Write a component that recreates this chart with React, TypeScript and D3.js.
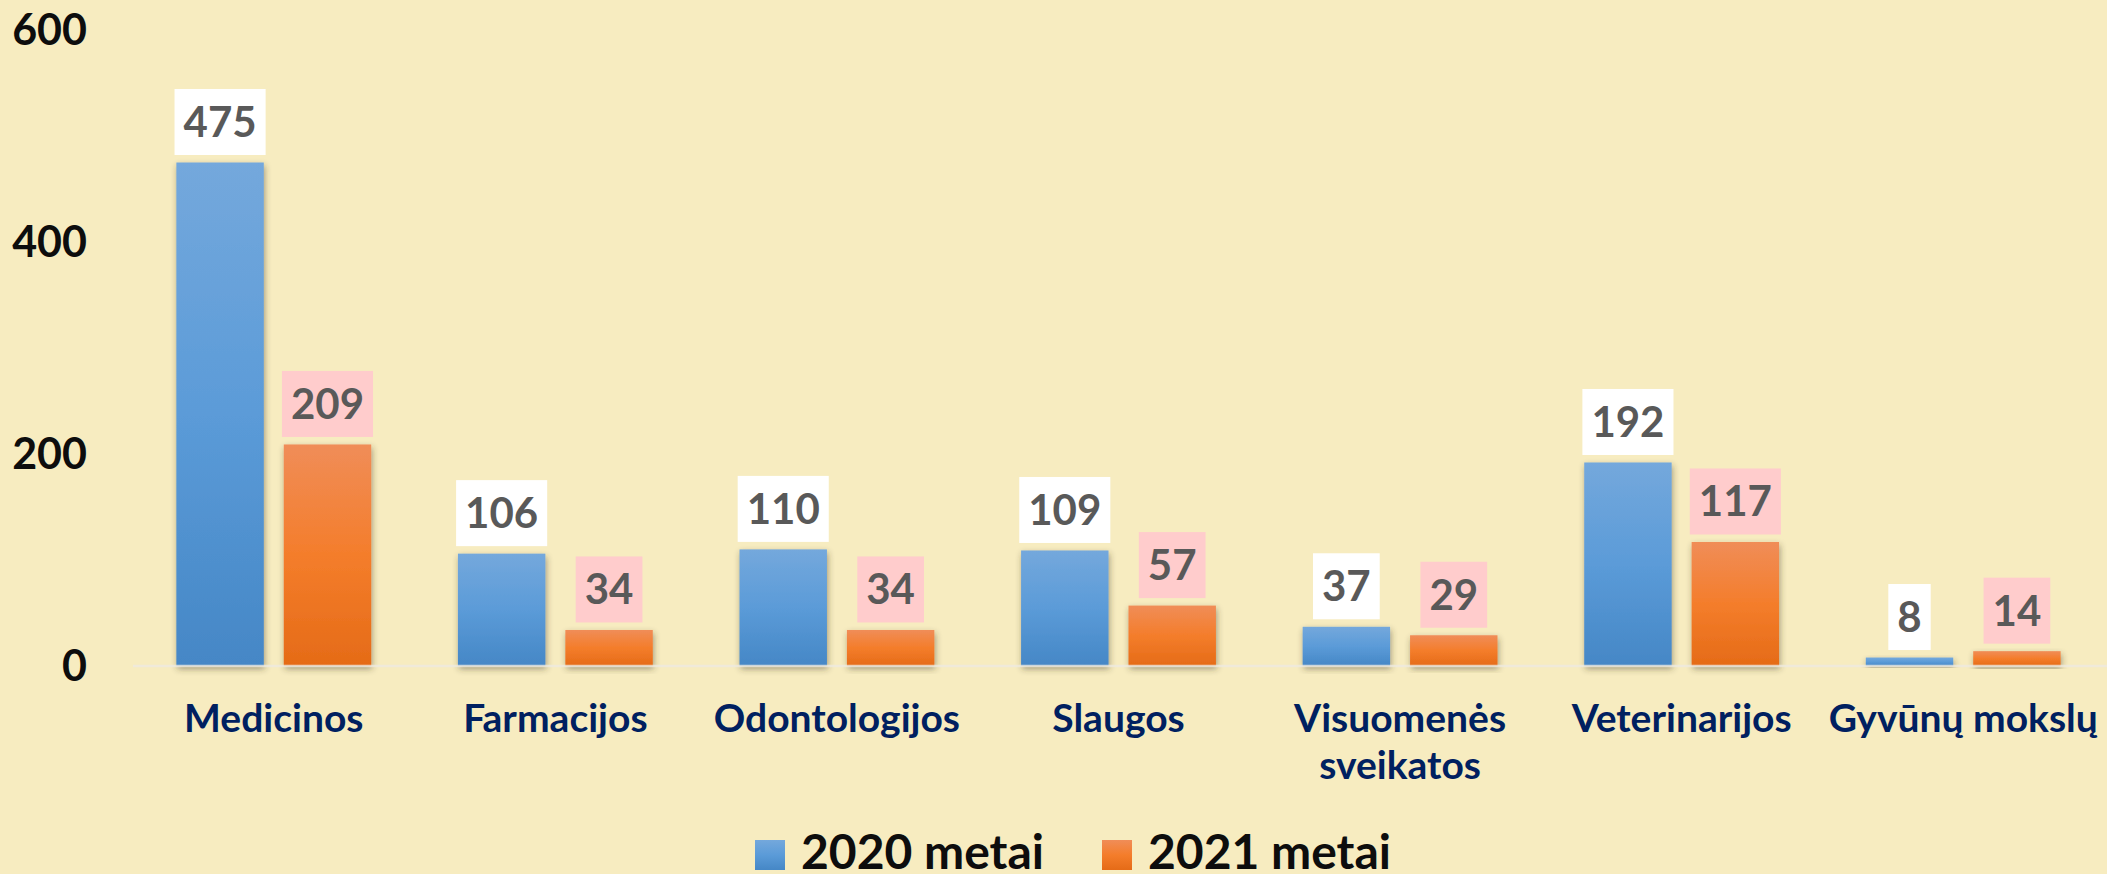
import { useEffect } from 'react'
import * as d3 from 'd3'

const categories = ['Medicinos', 'Farmacijos', 'Odontologijos', 'Slaugos', 'Visuomenės\nsveikatos', 'Veterinarijos', 'Gyvūnų mokslų']
const seriesNames = ['2020 metai', '2021 metai']
const values2020 = [475, 106, 110, 109, 37, 192, 8]
const values2021 = [209, 34, 34, 57, 29, 117, 14]
const yTicks = [0, 200, 400, 600]

const W = 2107
const H = 874
const FONT = 'Lato, "Open Sans", sans-serif'

const gradients = [
  { id: 'g2020', stops: ['#74a8dc', '#5b9bd8', '#4587c6'] },
  { id: 'g2021', stops: ['#f08d58', '#f47d2b', '#e56b17'] },
]
const labelBoxFill = ['#ffffff', '#ffcccc']

const App = () => {
  useEffect(() => {
    document.body.style.margin = '0'
    document.body.style.overflow = 'hidden'
  }, [])

  const x0 = d3.scaleBand<string>()
    .domain(categories)
    .range([133, 2104])
    .paddingInner(0.308)
    .paddingOuter(0.154)

  const x1 = d3.scaleBand<string>()
    .domain(seriesNames)
    .range([0, x0.bandwidth()])
    .paddingInner(0.186)

  const y = d3.scaleLinear().domain([0, 600]).range([666, 30])

  const series = [values2020, values2021]
  const valueFont = 42
  const digitW = valueFont * 0.58

  return (
    <svg width={W} height={H} style={{ display: 'block', background: '#f7ecc0' }}>
      <defs>
        {gradients.map(g => (
          <linearGradient key={g.id} id={g.id} x1="0" y1="0" x2="0" y2="1">
            <stop offset="0" stopColor={g.stops[0]} />
            <stop offset="0.5" stopColor={g.stops[1]} />
            <stop offset="1" stopColor={g.stops[2]} />
          </linearGradient>
        ))}
        <filter id="shadow" x="-20%" y="-20%" width="140%" height="140%">
          <feDropShadow dx="1" dy="3" stdDeviation="3" floodColor="#3a3020" floodOpacity="0.45" />
        </filter>
      </defs>
      <rect width={W} height={H} fill="#f7ecc0" />

      {/* y tick labels */}
      {yTicks.map(t => (
        <text key={t} x={87} y={y(t) + 15} textAnchor="end"
          fontFamily={FONT} fontWeight={700} fontSize={43} fill="#0d0d0d">{t}</text>
      ))}

      {/* bars */}
      {categories.map((c, i) => (
        <g key={c} transform={`translate(${x0(c)},0)`}>
          {series.map((vals, s) => (
            <rect key={s}
              x={x1(seriesNames[s])}
              y={y(vals[i])}
              width={x1.bandwidth()}
              height={y(0) - y(vals[i])}
              fill={`url(#${gradients[s].id})`}
              filter="url(#shadow)" />
          ))}
        </g>
      ))}

      {/* baseline */}
      <line x1={133} x2={W} y1={y(0)} y2={y(0)} stroke="#eeeae0" strokeOpacity={0.8} strokeWidth={2.5} />

      {/* value labels */}
      {categories.map((c, i) => (
        <g key={c} transform={`translate(${x0(c)},0)`}>
          {series.map((vals, s) => {
            const label = String(vals[i])
            const bw = label.length * digitW + 18
            const cx = (x1(seriesNames[s]) ?? 0) + x1.bandwidth() / 2
            const top = y(vals[i]) - 7.5 - 66
            return (
              <g key={s}>
                <rect x={cx - bw / 2} y={top} width={bw} height={66} fill={labelBoxFill[s]} />
                <text x={cx} y={top + 48} textAnchor="middle"
                  fontFamily={FONT} fontWeight={700} fontSize={valueFont} fill="#595959">{label}</text>
              </g>
            )
          })}
        </g>
      ))}

      {/* category labels */}
      {categories.map(c => (
        <text key={c} x={(x0(c) ?? 0) + x0.bandwidth() / 2} y={732} textAnchor="middle"
          fontFamily={FONT} fontWeight={700} fontSize={39} fill="#002060">
          {c.split('\n').map((line, k) => (
            <tspan key={k} x={(x0(c) ?? 0) + x0.bandwidth() / 2} dy={k === 0 ? 0 : 47}>{line}</tspan>
          ))}
        </text>
      ))}

      {/* legend */}
      {seriesNames.map((name, s) => {
        const lx = [755, 1102][s]
        return (
          <g key={name}>
            <rect x={lx} y={840} width={30} height={30} fill={`url(#${gradients[s].id})`} />
            <text x={lx + 46} y={869} fontFamily={FONT} fontWeight={700} fontSize={48} fill="#0d0d0d">{name}</text>
          </g>
        )
      })}
    </svg>
  )
}

export default App
